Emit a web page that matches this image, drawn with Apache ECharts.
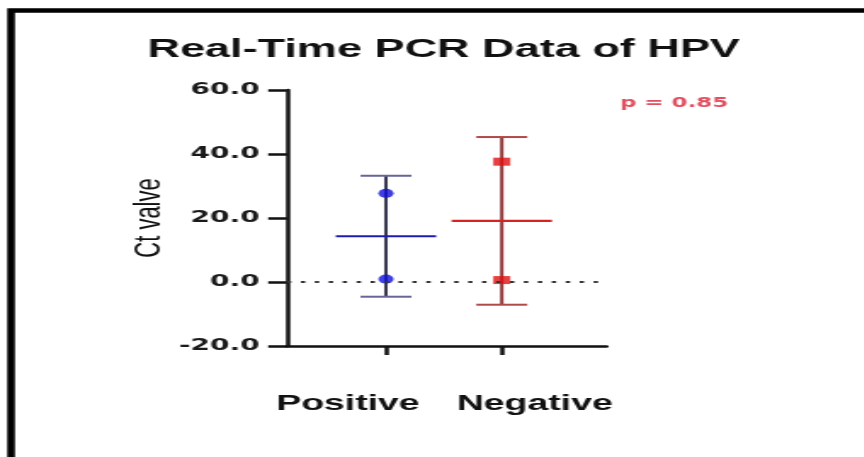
<!DOCTYPE html>
<html>
<head>
<meta charset="utf-8">
<script src="https://cdn.jsdelivr.net/npm/echarts@6/dist/echarts.min.js"></script>
<style>
  html, body { margin: 0; padding: 0; background: #fff; overflow: hidden; }
  /* the source picture is stretched sideways, so draw narrow and stretch */
  #main { width: 508px; height: 457px; transform: scaleX(1.7); transform-origin: 0 0; }
</style>
</head>
<body>
<div id="main"></div>
<script>
// values
var categories = ['Positive', 'Negative'];
var positiveCt = [27.7, 0.9];
var negativeCt = [37.6, 0.6];
var groupMean = [14.3, 19.1];
var groupSD = [18.9, 26.2];
var yTicks = [-20, 0, 20, 40, 60];
var pText = 'p = 0.85';

var mainColors = ['#1c1cb4', '#d42424'];   // mean line
var whiskColors = ['#35354f', '#8c3838'];  // vertical bar
var capColors = ['#66669a', '#b04a4a'];    // caps

var chart = echarts.init(document.getElementById('main'));

var barData = categories.map(function (c, i) {
    return [i + 1, groupMean[i], groupSD[i]];
});

option = {
    backgroundColor: '#fff',
    animation: false,
    title: {
        text: 'Real-Time PCR Data of HPV',
        left: 261,
        top: 36,
        padding: 0,
        textAlign: 'center',
        textStyle: {
            fontSize: 26.5,
            fontWeight: 'bold',
            color: '#111',
            fontFamily: 'Liberation Sans, Arial, sans-serif'
        }
    },
    grid: {
        left: 168.8,
        right: 151.2,
        top: 90,
        bottom: 111
    },
    xAxis: {
        type: 'value',
        min: 0.145,
        max: 2.905,
        splitLine: { show: false },
        axisLine: { onZero: false, lineStyle: { color: '#111', width: 2.5 } },
        axisTick: {
            customValues: [1, 2],
            length: 9,
            lineStyle: { color: '#111', width: 2.5 }
        },
        axisLabel: {
            customValues: [1, 2],
            margin: 47,
            formatter: function (v) {
                var i = Math.round(v) - 1;
                return '{c' + i + '|' + categories[i] + '}';
            },
            rich: {
                c0: {
                    fontSize: 22, fontWeight: 'bold', color: '#111',
                    fontFamily: 'Liberation Sans, Arial, sans-serif',
                    padding: [0, 44.8, 0, 0]
                },
                c1: {
                    fontSize: 22, fontWeight: 'bold', color: '#111',
                    fontFamily: 'Liberation Sans, Arial, sans-serif',
                    padding: [0, 0, 0, 38.8]
                }
            }
        }
    },
    yAxis: {
        type: 'value',
        min: yTicks[0],
        max: yTicks[yTicks.length - 1],
        interval: yTicks[1] - yTicks[0],
        name: 'Ct valve',
        nameLocation: 'middle',
        nameGap: 70,
        nameTextStyle: {
            fontSize: 22,
            color: '#111',
            fontFamily: 'Liberation Sans, Arial, sans-serif'
        },
        splitLine: { show: false },
        axisLine: { show: true, onZero: false, lineStyle: { color: '#111', width: 2.5 } },
        axisTick: { show: true, length: 11, lineStyle: { color: '#111', width: 2.5 } },
        axisLabel: {
            margin: 16,
            fontSize: 16.5,
            fontWeight: 'bold',
            color: '#1a1a1a',
            fontFamily: 'DejaVu Sans, sans-serif',
            formatter: function (v) { return v.toFixed(1); }
        }
    },
    graphic: [
        {
            // frame of the figure (left + top edge)
            type: 'rect',
            shape: { x: 6.5, y: 10.5, width: 1000, height: 1000 },
            style: { fill: null, stroke: '#000', lineWidth: 4.5 },
            silent: true
        },
        {
            type: 'text',
            x: 396.5,
            y: 103,
            style: {
                text: pText,
                align: 'center',
                verticalAlign: 'middle',
                fill: '#e24f60',
                font: 'bold 13.5px "DejaVu Sans", sans-serif'
            }
        }
    ],
    series: [
        {
            name: 'errbar',
            type: 'custom',
            data: barData,
            z: 2,
            renderItem: function (params, api) {
                var i = params.dataIndex;
                var x = api.value(0), m = api.value(1), sd = api.value(2);
                var c = api.coord([x, m]);
                var hi = api.coord([x, m + sd]);
                var lo = api.coord([x, m - sd]);
                return {
                    type: 'group',
                    children: [
                        { type: 'line', shape: { x1: c[0], y1: hi[1], x2: c[0], y2: lo[1] },
                          style: { stroke: whiskColors[i], lineWidth: 2 } },
                        { type: 'line', shape: { x1: c[0] - 15, y1: hi[1], x2: c[0] + 15, y2: hi[1] },
                          style: { stroke: capColors[i], lineWidth: 2 } },
                        { type: 'line', shape: { x1: c[0] - 15, y1: lo[1], x2: c[0] + 15, y2: lo[1] },
                          style: { stroke: capColors[i], lineWidth: 2 } },
                        { type: 'line', shape: { x1: c[0] - 29.5, y1: c[1], x2: c[0] + 29.5, y2: c[1] },
                          style: { stroke: mainColors[i], lineWidth: 2.2 } }
                    ]
                };
            }
        },
        {
            name: categories[0],
            type: 'scatter',
            symbol: 'circle',
            symbolSize: 9,
            z: 3,
            itemStyle: { color: '#1010d8' },
            data: positiveCt.map(function (v) { return [1, v]; }),
            markLine: {
                silent: true,
                symbol: 'none',
                label: { show: false },
                lineStyle: { color: '#333', width: 2, type: [2.5, 5.7] },
                data: [{ yAxis: 0 }]
            }
        },
        {
            name: categories[1],
            type: 'scatter',
            symbol: 'rect',
            symbolSize: [10, 8],
            z: 3,
            itemStyle: { color: '#e01010' },
            data: negativeCt.map(function (v) { return [2, v]; })
        }
    ]
};

chart.setOption(option);
</script>
</body>
</html>
